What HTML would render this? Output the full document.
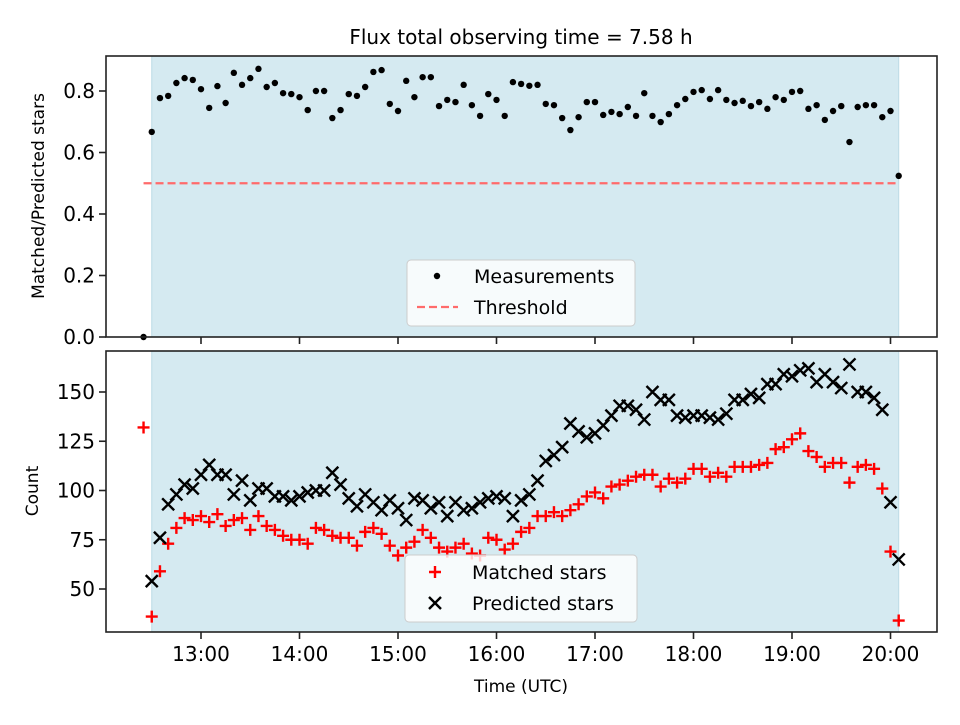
<!DOCTYPE html>
<html><head><meta charset="utf-8"><style>
body{margin:0;background:#fff;}
svg text{font-family:"DejaVu Sans","Liberation Sans",sans-serif;fill:#000;}
</style></head><body>
<svg id="chart" width="960" height="720" viewBox="0 0 960 720" xmlns="http://www.w3.org/2000/svg">
<rect width="960" height="720" fill="#fff"/>
<text x="521" y="44" font-size="20" text-anchor="middle">Flux total observing time = 7.58 h</text>
<g id="top"></g><g id="bot"></g>
<text x="521" y="692" font-size="17" text-anchor="middle">Time (UTC)</text>
<text transform="translate(44,196) rotate(-90)" font-size="17" text-anchor="middle">Matched/Predicted stars</text>
<text transform="translate(38,491) rotate(-90)" font-size="17" text-anchor="middle">Count</text>
</svg>
<script>
// times in minutes after 12:00; measurements every 5 minutes from 12:30
const startMin = 30, stepMin = 5;
const ratio = [0.667,0.777,0.784,0.826,0.842,0.836,0.806,0.745,0.816,0.761,0.859,0.82,0.842,0.872,0.813,0.826,0.793,0.79,0.78,0.738,0.80,0.80,0.712,0.738,0.79,0.784,0.813,0.862,0.868,0.758,0.735,0.833,0.78,0.845,0.845,0.751,0.771,0.764,0.82,0.754,0.719,0.79,0.771,0.719,0.829,0.823,0.817,0.82,0.758,0.754,0.712,0.673,0.715,0.764,0.764,0.722,0.732,0.725,0.748,0.719,0.793,0.719,0.699,0.725,0.754,0.774,0.797,0.803,0.774,0.803,0.771,0.761,0.768,0.751,0.764,0.742,0.78,0.771,0.797,0.80,0.742,0.754,0.706,0.735,0.751,0.634,0.748,0.754,0.754,0.715,0.735,0.524];
const earlyTime = 25, earlyRatio = 0, earlyMatched = 132;
const matched = [36,59,73,81,86,85,87,84,88,82,85,86,80,87,82,80,77,75,75,73,81,80,77,76,76,72,79,81,78,72,67,71,74,80,76,71,69,71,73,68,67,76,75,70,73,79,81,87,87,89,87,90,93,97,99,96,102,103,105,107,108,108,102,106,104,106,111,111,107,109,107,112,112,112,113,114,121,122,126,129,120,117,112,114,114,104,112,113,111,101,69,34];
const predicted = [54,76,93,98,103,101,108,113,108,108,98,105,95,101,101,97,97,95,97,99,100,100,109,103,96,92,98,94,90,95,91,85,96,95,91,94,87,94,90,91,94,96,97,96,87,95,98,105,115,118,122,134,130,127,129,133,138,143,143,141,136,150,146,146,138,137,138,138,137,136,139,146,146,149,147,154,154,159,158,161,162,155,159,155,152,164,150,150,147,141,94,65];
const threshold = 0.5;
const topTicks = [0.0,0.2,0.4,0.6,0.8];
const botTicks = [50,75,100,125,150];
const xTickMins = [60,120,180,240,300,360,420,480];
const xTickLabels = ["13:00","14:00","15:00","16:00","17:00","18:00","19:00","20:00"];

const NS="http://www.w3.org/2000/svg";
const L=106,R=937;
const X=m=>201+(m-60)/60*98.5;
const yTop=v=>337-v*307.5;
const yBot=v=>589-(v-50)*1.97;
function mk(parent,tag,attrs){const e=document.createElementNS(NS,tag);for(const k in attrs)e.setAttribute(k,attrs[k]);parent.appendChild(e);return e;}
const tg=document.getElementById('top'), bg=document.getElementById('bot');
const obsEnd=startMin+stepMin*(ratio.length-1);

function frame(g,y0,y1,name){
  const s=mk(g,'rect',{x:X(startMin),y:y0,width:X(obsEnd)-X(startMin),height:y1-y0,fill:'#d5eaf1',stroke:'#bcdbe5','stroke-width':1});
  
  
}
function axes(g,y0,y1,name,labels){
  const f=mk(g,'rect',{x:L,y:y0,width:R-L,height:y1-y0,fill:'none',stroke:'#222','stroke-width':1.6});
  
  
  xTickMins.forEach((m,i)=>{
    const t=mk(g,'line',{x1:X(m),x2:X(m),y1:y1,y2:y1+7,stroke:'#222','stroke-width':1.6});
    
    
    if(labels){
      const tx=mk(g,'text',{x:X(m),y:y1+29,'font-size':20,'text-anchor':'middle'});
      tx.textContent=xTickLabels[i];
      
      
    }
  });
}
// top panel
frame(tg,56,337,'top');
const th=mk(tg,'line',{x1:X(earlyTime),x2:X(obsEnd),y1:yTop(threshold),y2:yTop(threshold),stroke:'#ff6b6b','stroke-width':2.2,'stroke-dasharray':'8,4'});


const e0=mk(tg,'circle',{cx:X(earlyTime),cy:yTop(earlyRatio),r:3.2,fill:'#000'});


ratio.forEach((v,i)=>{
  const c=mk(tg,'circle',{cx:X(startMin+i*stepMin),cy:yTop(v),r:3.2,fill:'#000'});
  
  
});
topTicks.forEach(v=>{
  const t=mk(tg,'line',{x1:L-7,x2:L,y1:yTop(v),y2:yTop(v),stroke:'#222','stroke-width':1.6});
  
  
  const tx=mk(tg,'text',{x:L-11,y:yTop(v)+7,'font-size':20,'text-anchor':'end'});
  tx.textContent=v.toFixed(1);
  
  
});
axes(tg,56,337,'top',false);
// bottom panel
frame(bg,351,632,'bottom');
function plus(x,y){const g=mk(bg,'path',{d:`M${x-6},${y}H${x+6}M${x},${y-6}V${y+6}`,stroke:'#ff0000','stroke-width':2.4,fill:'none'});
  
  }
function cross(x,y){const g=mk(bg,'path',{d:`M${x-6},${y-6}L${x+6},${y+6}M${x-6},${y+6}L${x+6},${y-6}`,stroke:'#000','stroke-width':2.4,fill:'none'});
  
  }
plus(X(earlyTime),yBot(earlyMatched));
matched.forEach((v,i)=>plus(X(startMin+i*stepMin),yBot(v)));
predicted.forEach((v,i)=>cross(X(startMin+i*stepMin),yBot(v)));
botTicks.forEach(v=>{
  const t=mk(bg,'line',{x1:L-7,x2:L,y1:yBot(v),y2:yBot(v),stroke:'#222','stroke-width':1.6});
  
  
  const tx=mk(bg,'text',{x:L-11,y:yBot(v)+7,'font-size':20,'text-anchor':'end'});
  tx.textContent=String(v);
  
  
});
axes(bg,351,632,'bottom',true);
</script>
<svg style="position:absolute;left:0;top:0" width="960" height="720">
<g>
<rect x="407" y="260" width="228" height="66" rx="4" fill="#fff" fill-opacity="0.8" stroke="#ccc"/>
<circle cx="437" cy="276" r="3.2" fill="#000"/>
<text x="474" y="283" font-size="19" font-family="DejaVu Sans,sans-serif">Measurements</text>
<line x1="417" x2="458" y1="307" y2="307" stroke="#ff6b6b" stroke-width="2.2" stroke-dasharray="8,4"/>
<text x="474" y="314" font-size="19" font-family="DejaVu Sans,sans-serif">Threshold</text>
</g>
<g>
<rect x="405" y="555" width="232" height="67" rx="4" fill="#fff" fill-opacity="0.8" stroke="#ccc"/>
<path d="M429,572H441M435,566V578" stroke="#f00" stroke-width="2.4"/>
<text x="472" y="579" font-size="19" font-family="DejaVu Sans,sans-serif">Matched stars</text>
<path d="M429,597L441,609M429,609L441,597" stroke="#000" stroke-width="2.4"/>
<text x="472" y="610" font-size="19" font-family="DejaVu Sans,sans-serif">Predicted stars</text>
</g>
</svg>
</body></html>
